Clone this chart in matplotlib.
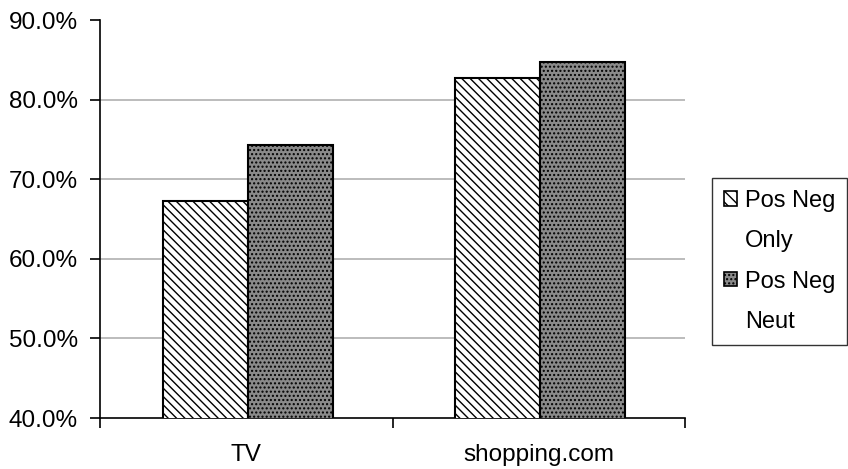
import numpy as np
import matplotlib.pyplot as plt
from matplotlib.patches import Patch
from matplotlib.ticker import FuncFormatter

plt.rcParams['font.family'] = ['Liberation Sans', 'DejaVu Sans']
plt.rcParams['hatch.linewidth'] = 1.0

categories = ['TV', 'shopping.com']
pos_neg_only = [67.3, 82.7]
pos_neg_neut = [74.3, 84.7]
labels = ['Pos Neg\nOnly', 'Pos Neg\nNeut']

fig = plt.figure(figsize=(8.48, 4.69), dpi=100)
ax = fig.add_axes([100 / 848, 51 / 469, 585 / 848, 398 / 469])

x = np.arange(len(categories))
w = 0.29
b1 = ax.bar(x - w / 2 + 0.005, pos_neg_only, w, color='white', edgecolor='black',
            hatch='\\\\\\\\', linewidth=1.5, label=labels[0], zorder=3)
b2 = ax.bar(x + w / 2 + 0.005, pos_neg_neut, w, color='#8a8a8a', edgecolor='black',
            hatch='....', linewidth=1.5, label=labels[1], zorder=3)

ax.set_ylim(40, 90)
ax.set_xlim(-0.5, 1.5)
ax.set_yticks(np.arange(40, 91, 10))
ax.yaxis.set_major_formatter(FuncFormatter(lambda v, p: f'{v:.1f}%'))
ax.set_xticks(x)
ax.set_xticklabels(categories)
ax.set_xticks([-0.5, 0.5, 1.5], minor=True)
ax.tick_params(axis='x', which='major', length=0, pad=19, labelsize=17.5)
ax.tick_params(axis='x', which='minor', length=7, width=1.2, direction='out')
ax.tick_params(axis='y', length=7, width=1.2, direction='out', labelsize=17.5, pad=9)
for v in [50, 60, 70, 80]:
    ax.axhline(v, color='#b0b0b0', linewidth=1.2, zorder=1)
ax.spines['top'].set_visible(False)
ax.spines['right'].set_visible(False)
ax.spines['left'].set_linewidth(1.2)
ax.spines['bottom'].set_linewidth(1.2)

# legend: one row per text line so the swatch sits on the first line
blank = Patch(visible=False)
h1 = Patch(facecolor='white', edgecolor='black', hatch='\\\\\\', linewidth=1.2)
h2 = Patch(facecolor='#8a8a8a', edgecolor='black', hatch='....', linewidth=1.2)
rows = []
handles = []
for h, lab in zip([h1, h2], labels):
    parts = lab.split('\n')
    rows += parts
    handles += [h] + [blank] * (len(parts) - 1)
leg = fig.legend(handles, rows, loc='upper left', bbox_to_anchor=(712 / 848, 1 - 178 / 469),
                 borderaxespad=0, fontsize=17, frameon=True, fancybox=False, edgecolor='black',
                 handlelength=0.55, handleheight=0.55, handletextpad=0.35,
                 labelspacing=0.78, borderpad=0.5)
leg.get_frame().set_linewidth(1.0)

fig.savefig('out.png', dpi=100)
